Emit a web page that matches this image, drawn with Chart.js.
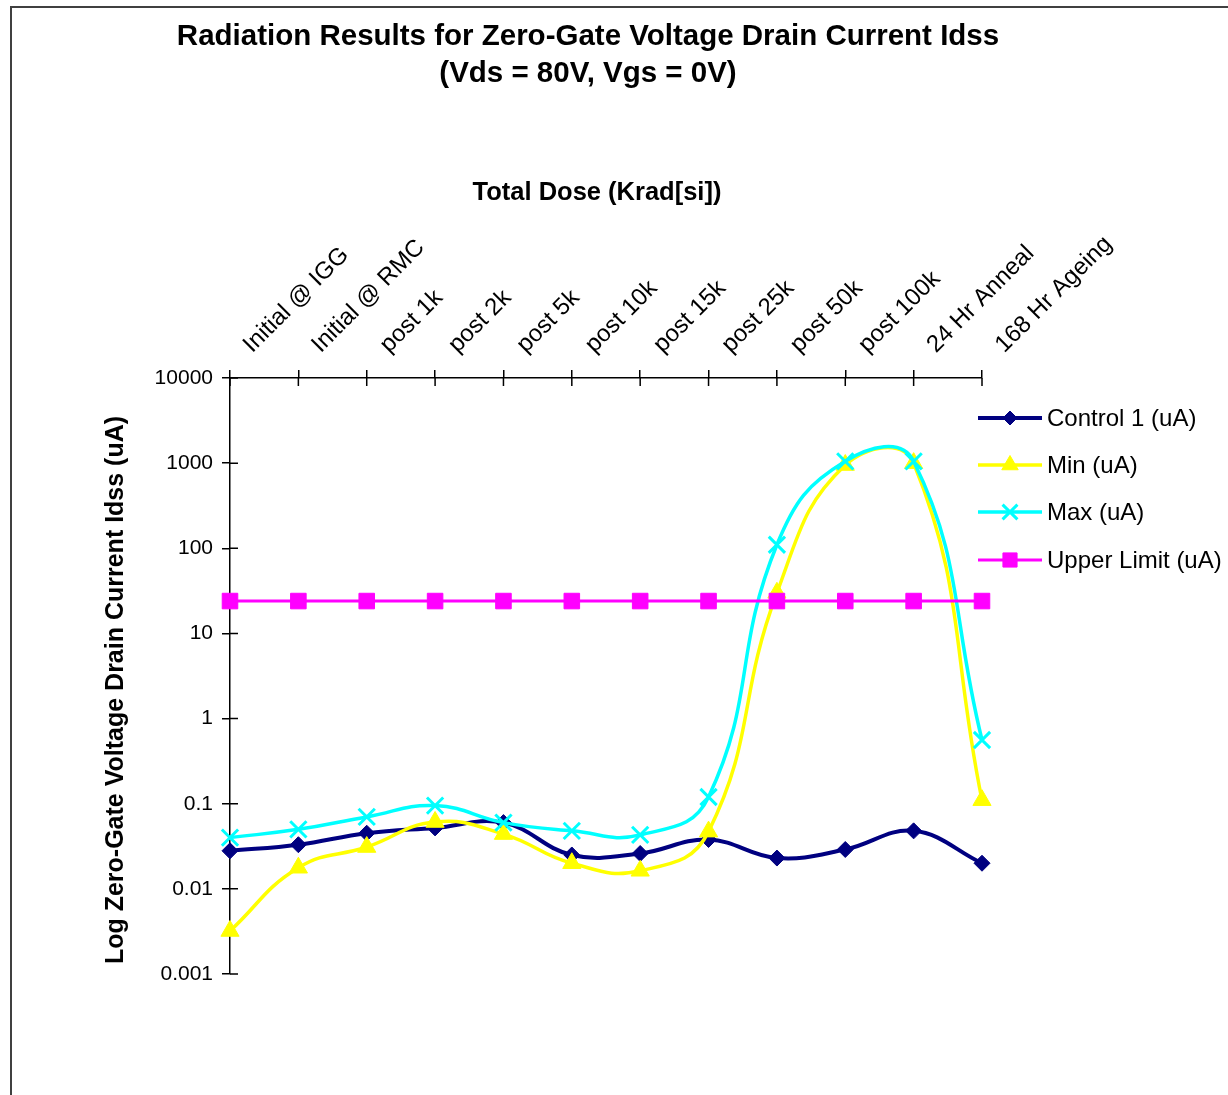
<!DOCTYPE html>
<html>
<head>
<meta charset="utf-8">
<script src="https://cdn.jsdelivr.net/npm/chart.js@4.4.0/dist/chart.umd.min.js"></script>
<style>
  html, body { margin: 0; padding: 0; background: #fff; }
  canvas { display: block; }
</style>
</head>
<body>
<canvas id="idssChart" width="1228" height="1095"></canvas>
<script>
const doseLabels = ['Initial @ IGG', 'Initial @ RMC', 'post 1k', 'post 2k', 'post 5k', 'post 10k',
    'post 15k', 'post 25k', 'post 50k', 'post 100k', '24 Hr Anneal', '168 Hr Ageing'];
const control1 = [0.028, 0.033, 0.045, 0.052, 0.06, 0.025, 0.026, 0.038, 0.023, 0.029, 0.048, 0.02];
const minVals = [0.0032, 0.0177, 0.031, 0.061, 0.044, 0.02, 0.0163, 0.047, 30, 950, 1000, 0.11];
const maxVals = [0.04, 0.05, 0.07, 0.095, 0.06, 0.048, 0.043, 0.12, 110, 1050, 1050, 0.56];
const upperLimit = [24, 24, 24, 24, 24, 24, 24, 24, 24, 24, 24, 24];
const yTickValues = [0.001, 0.01, 0.1, 1, 10, 100, 1000, 10000];
const yTickLabels = ['0.001', '0.01', '0.1', '1', '10', '100', '1000', '10000'];

const FONT = "'Liberation Sans', Arial, sans-serif";
const titleLines = ['Radiation Results for Zero-Gate Voltage Drain Current Idss', '(Vds = 80V, Vgs = 0V)'];
const xTitle = 'Total Dose (Krad[si])';
const yTitle = 'Log Zero-Gate Voltage Drain Current Idss (uA)';

// outer frame, main title and axis titles (placed like the excel sheet)
const framePlugin = {
    id: 'frame',
    afterDraw(chart) {
        const ctx = chart.ctx;
        ctx.save();
        ctx.strokeStyle = '#404040';
        ctx.lineWidth = 2;
        ctx.beginPath();
        ctx.moveTo(11, 1095);
        ctx.lineTo(11, 7);
        ctx.lineTo(1228, 7);
        ctx.stroke();

        ctx.fillStyle = '#000';
        ctx.textAlign = 'center';
        ctx.textBaseline = 'middle';
        ctx.font = 'bold 29.5px ' + FONT;
        ctx.fillText(titleLines[0], 588, 36.5);
        ctx.fillText(titleLines[1], 588, 73.5);

        ctx.font = 'bold 25.5px ' + FONT;
        ctx.fillText(xTitle, 597, 193);

        ctx.translate(116, 690);
        ctx.rotate(-Math.PI / 2);
        ctx.font = 'bold 25px ' + FONT;
        ctx.fillText(yTitle, 0, 0);
        ctx.restore();
    }
};

// excel style ticks cross the axis line, so add the inner half
const innerTicks = {
    id: 'innerTicks',
    beforeDatasetsDraw(chart) {
        const { ctx, chartArea, scales: { x, y } } = chart;
        ctx.save();
        ctx.strokeStyle = '#000';
        ctx.lineWidth = 1.5;
        ctx.beginPath();
        x.ticks.forEach((t, i) => {
            const px = x.getPixelForTick(i);
            ctx.moveTo(px, chartArea.top);
            ctx.lineTo(px, chartArea.top + 8);
        });
        y.ticks.forEach((t, i) => {
            const py = y.getPixelForTick(i);
            ctx.moveTo(chartArea.left, py);
            ctx.lineTo(chartArea.left + 8, py);
        });
        ctx.stroke();
        ctx.restore();
    }
};

// legend with line + marker, like the excel one
const lineLegend = {
    id: 'lineLegend',
    afterDraw(chart) {
        const ctx = chart.ctx;
        const rows = [418, 465, 512, 560];
        ctx.save();
        chart.data.datasets.forEach((ds, i) => {
            const yy = rows[i];
            ctx.strokeStyle = ds.borderColor;
            ctx.lineWidth = ds.borderWidth;
            ctx.beginPath();
            ctx.moveTo(978, yy);
            ctx.lineTo(1042, yy);
            ctx.stroke();
            ctx.fillStyle = ds.pointBackgroundColor;
            ctx.strokeStyle = ds.pointBorderColor;
            ctx.lineWidth = ds.pointBorderWidth;
            Chart.helpers.drawPoint(ctx, {
                pointStyle: ds.pointStyle,
                radius: ds.pointRadius - 1,
                rotation: 0,
                borderWidth: ds.pointBorderWidth
            }, 1010, yy);
            ctx.fillStyle = '#000';
            ctx.font = '24px ' + FONT;
            ctx.textAlign = 'left';
            ctx.textBaseline = 'middle';
            ctx.fillText(ds.label, 1047, yy + 1);
        });
        ctx.restore();
    }
};

const ctx = document.getElementById('idssChart').getContext('2d');
new Chart(ctx, {
    type: 'line',
    data: {
        labels: doseLabels,
        datasets: [{
            label: 'Control 1 (uA)',
            data: control1,
            borderColor: '#000080',
            borderWidth: 4,
            pointStyle: 'rectRot',
            pointRadius: 8,
            pointBackgroundColor: '#000080',
            pointBorderColor: '#000080',
            pointBorderWidth: 1,
            tension: 0.4,
            clip: false,
            order: 4
        }, {
            label: 'Min (uA)',
            data: minVals,
            borderColor: '#ffff00',
            borderWidth: 3.5,
            pointStyle: 'triangle',
            pointRadius: 10.5,
            pointBackgroundColor: '#ffff00',
            pointBorderColor: '#ffff00',
            pointBorderWidth: 1,
            tension: 0.45,
            clip: false,
            order: 3
        }, {
            label: 'Max (uA)',
            data: maxVals,
            borderColor: '#00ffff',
            borderWidth: 3.5,
            pointStyle: 'crossRot',
            pointRadius: 11.5,
            pointBackgroundColor: '#00ffff',
            pointBorderColor: '#00ffff',
            pointBorderWidth: 3,
            tension: 0.45,
            clip: false,
            order: 2
        }, {
            label: 'Upper Limit (uA)',
            data: upperLimit,
            borderColor: '#ff00ff',
            borderWidth: 3,
            pointStyle: 'rect',
            pointRadius: 11,
            pointBackgroundColor: '#ff00ff',
            pointBorderColor: '#ff00ff',
            pointBorderWidth: 1,
            tension: 0,
            clip: false,
            order: 1
        }]
    },
    options: {
        responsive: false,
        animation: false,
        layout: {
            padding: { left: 12, right: 246, top: 100, bottom: 121 }
        },
        scales: {
            x: {
                type: 'category',
                position: 'top',
                offset: false,
                grid: { drawOnChartArea: false, tickLength: 8, color: '#000', lineWidth: 1.5 },
                border: { color: '#000', width: 1.5 },
                ticks: {
                    autoSkip: false,
                    minRotation: 45,
                    maxRotation: 45,
                    padding: 11,
                    labelOffset: 38,
                    color: '#000',
                    font: { family: FONT, size: 24 }
                },
                afterFit(s) {
                    s.height = 278;
                    s.paddingLeft = 0;
                    s.paddingRight = 0;
                }
            },
            y: {
                type: 'logarithmic',
                position: 'left',
                min: 0.001,
                max: 10000,
                afterBuildTicks(s) {
                    s.ticks = yTickValues.map(v => ({ value: v }));
                },
                grid: { drawOnChartArea: false, tickLength: 8, color: '#000', lineWidth: 1.5 },
                border: { color: '#000', width: 1.5 },
                ticks: {
                    autoSkip: false,
                    padding: 9,
                    color: '#000',
                    font: { family: FONT, size: 21 },
                    callback: (v, i) => yTickLabels[i]
                },
                afterFit(s) {
                    s.width = 218;
                }
            }
        },
        plugins: {
            legend: { display: false },
            title: { display: false },
            tooltip: { enabled: false }
        }
    },
    plugins: [framePlugin, innerTicks, lineLegend]
});
</script>
</body>
</html>
